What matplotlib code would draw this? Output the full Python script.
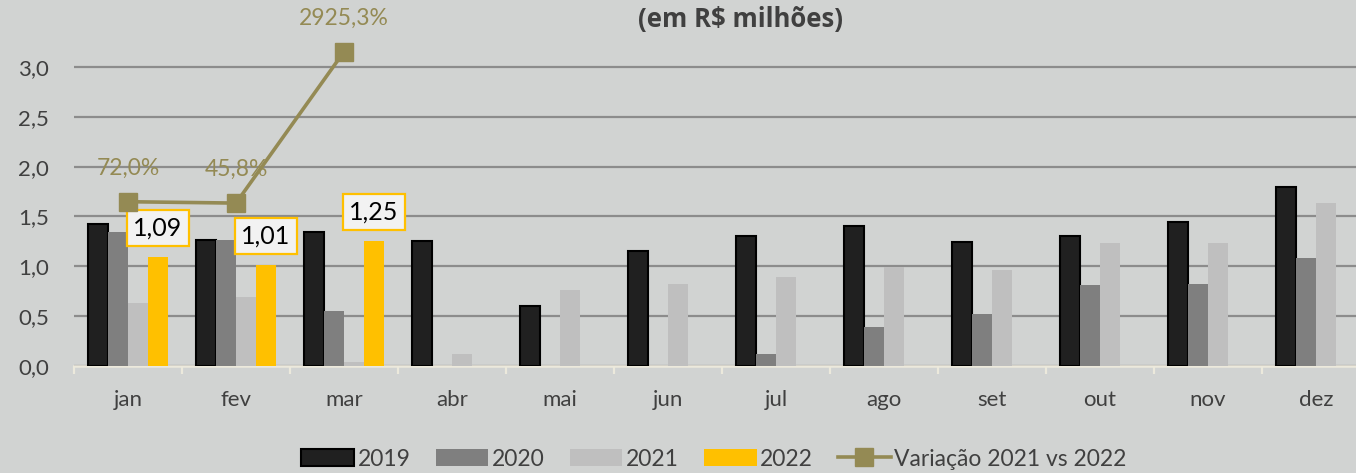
import matplotlib
matplotlib.use("Agg")
import matplotlib.pyplot as plt
from matplotlib.lines import Line2D
from matplotlib.patches import Patch
import numpy as np

months = ['jan', 'fev', 'mar', 'abr', 'mai', 'jun', 'jul', 'ago', 'set', 'out', 'nov', 'dez']
v2019 = [1.42, 1.26, 1.34, 1.25, 0.60, 1.15, 1.30, 1.40, 1.24, 1.30, 1.44, 1.80]
v2020 = [1.34, 1.26, 0.55, -0.03, -0.03, -0.03, 0.12, 0.39, 0.52, 0.81, 0.82, 1.08]
v2021 = [0.63, 0.69, 0.04, 0.12, 0.76, 0.82, 0.89, 0.99, 0.96, 1.23, 1.23, 1.63]
v2022 = [1.09, 1.01, 1.25]
variacao = [72.0, 45.8, 2925.3]
series_names = ['2019', '2020', '2021', '2022']
line_name = 'Variação 2021 vs 2022'
title = '(em R$ milhões)'

BG = '#d1d3d2'
C19, C20, C21, C22 = '#202020', '#7f7f7f', '#bfbfbf', '#ffc000'
OLIVE = '#948a54'
TXT = '#404040'
FONT = 'Lato'

plt.rcParams['font.family'] = [FONT, 'DejaVu Sans']

W, H = 1356, 473
fig = plt.figure(figsize=(W / 100, H / 100), dpi=100, facecolor=BG)

px_per_unit = 99.7
ymax = 3.3
ax_left, ax_right = 74, 1370
ax_bottom = 366
ax_top = ax_bottom - ymax * px_per_unit
ax = fig.add_axes([ax_left / W, (H - ax_bottom) / H, (ax_right - ax_left) / W, (ax_bottom - ax_top) / H])
ax.set_facecolor(BG)
ax.set_xlim(-0.5, 11.5)
ax.set_ylim(0, ymax)

x = np.arange(len(months))
bw = 0.183
ax.bar(x - 1.5 * bw, v2019, bw, color=C19, edgecolor='black', linewidth=1.5, zorder=3)
ax.bar(x - 0.5 * bw, v2020, bw, color=C20, zorder=3)
ax.bar(x + 0.5 * bw, v2021, bw, color=C21, zorder=3)
x22 = x[:len(v2022)] + 1.5 * bw
ax.bar(x22, v2022, bw, color=C22, zorder=3)

ax.set_yticks(np.arange(0, 3.01, 0.5))
ax.set_yticklabels([f'{v:.1f}'.replace('.', ',') for v in np.arange(0, 3.01, 0.5)])
ax.yaxis.grid(True, color='#8c8c8c', linewidth=1.6, zorder=0)
ax.set_axisbelow(True)
ax.tick_params(axis='y', length=0, pad=18, labelsize=16, labelcolor=TXT)

ax.set_xticks(x)
ax.set_xticklabels(months)
ax.set_xticks(np.arange(-0.5, 12, 1), minor=True)
ax.tick_params(axis='x', which='major', length=0, pad=17, labelsize=16, labelcolor=TXT)
ax.tick_params(axis='x', which='minor', length=6, width=1.6, color='#ece9dc', direction='out')

for s in ['top', 'right', 'left']:
    ax.spines[s].set_visible(False)
ax.spines['bottom'].set_color('#ece9dc')
ax.spines['bottom'].set_linewidth(1.8)
ax.spines['bottom'].set_zorder(2.5)

# secondary axis for the variation line
ax2 = ax.twinx()
zero_px = 205.5
px_per_pct = 0.05257
ax2.set_ylim((zero_px - ax_bottom) / px_per_pct, (zero_px - ax_top) / px_per_pct)
ax2.set_axis_off()
ax2.plot(x[:len(variacao)], variacao, color=OLIVE, linewidth=2.6, marker='s', markersize=13,
         zorder=5, clip_on=False)
for xi, v in zip(x, variacao):
    ax2.annotate(f'{v:.1f}%'.replace('.', ','), (xi, v), xytext=(0, 24), textcoords='offset points',
                 ha='center', va='center', color=OLIVE, fontsize=16.5, annotation_clip=False)

for xi, v in zip(x22, v2022):
    ax.annotate(f'{v:.2f}'.replace('.', ','), (xi, v), xytext=(0, 21), textcoords='offset points',
                ha='center', va='center', fontsize=18, color='black', zorder=10,
                bbox=dict(boxstyle='square,pad=0.25', facecolor='#f2f2f2', edgecolor=C22, linewidth=1.6))

fig.text(740 / W, 1 - 20 / H, title, ha='center', va='center', fontsize=18.5, fontweight='bold',
         color=TXT, family=['Open Sans', 'DejaVu Sans'])

handles = [Patch(facecolor=C19, edgecolor='black', linewidth=1.5),
           Patch(facecolor=C20), Patch(facecolor=C21), Patch(facecolor=C22),
           Line2D([0], [0], color=OLIVE, linewidth=2.6, marker='s', markersize=13)]
leg = fig.legend(handles, series_names + [line_name], loc='center', bbox_to_anchor=(714 / W, 14 / H),
                 ncol=5, frameon=False, fontsize=16.5, handlelength=2.3, handleheight=0.8,
                 handletextpad=0.15, columnspacing=1.1, labelcolor=TXT)

fig.savefig('out.png', dpi=100, facecolor=BG)
